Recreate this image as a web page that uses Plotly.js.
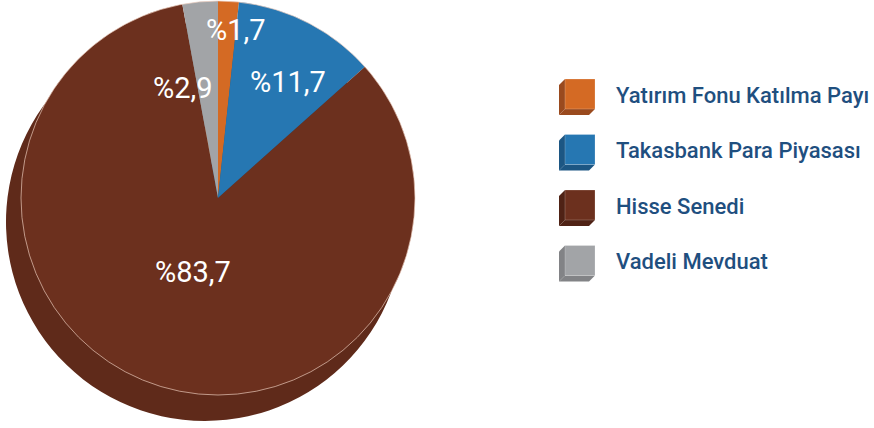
<!DOCTYPE html>
<html>
<head>
<meta charset="utf-8">
<script src="https://cdn.plot.ly/plotly-3.0.1.min.js"></script>
<style>html,body{margin:0;padding:0;background:#fff;}#chart{width:874px;height:428px;}</style>
</head>
<body>
<div id="chart"></div>
<script>
var categories = ["Yatırım Fonu Katılma Payı", "Takasbank Para Piyasası", "Hisse Senedi", "Vadeli Mevduat"];
var values = [1.7, 11.7, 83.7, 2.9];
var valueLabels = ["%1,7", "%11,7", "%83,7", "%2,9"];
var colors = ["#d46a24", "#2677b2", "#6c301e", "#a2a4a7"];
var sideColors = ["#9a4a1e", "#1c5683", "#4f2215", "#828386"];
var depthColors = ["#a85218", "#1d5c8a", "#5f2a1a", "#85878a"];

// label positions (pixel centers in the 874x428 picture)
var labelPos = [[236, 30], [288, 82], [193, 272], [183, 88]];

var W = 874, H = 428;

function dom(cx, cy, r) {
  return {x: [(cx - r) / W, (cx + r) / W], y: [(H - cy - r) / H, (H - cy + r) / H]};
}
function px(x) { return x / W; }
function py(y) { return 1 - y / H; }

var depth = {
  type: 'pie', values: values, labels: categories, sort: false, direction: 'clockwise', rotation: 0,
  marker: {colors: depthColors}, textinfo: 'none', hoverinfo: 'skip', showlegend: false,
  domain: dom(205, 222, 199)
};
var main = {
  type: 'pie', values: values, labels: categories, sort: false, direction: 'clockwise', rotation: 0,
  marker: {colors: colors, line: {width: 0}}, textinfo: 'none', hoverinfo: 'label+percent', showlegend: false,
  domain: dom(218, 198, 197)
};
var outline = {
  type: 'pie', values: [1], labels: ['outline'], sort: false,
  marker: {colors: ['rgba(0,0,0,0)'], line: {color: 'rgba(235,205,190,0.85)', width: 0.8}},
  textinfo: 'none', hoverinfo: 'skip', showlegend: false,
  domain: dom(218, 198, 197)
};

var annotations = [];
var shapes = [];
for (var i = 0; i < categories.length; i++) {
  annotations.push({
    xref: 'paper', yref: 'paper', x: labelPos[i][0] / W, y: 1 - labelPos[i][1] / H,
    xanchor: 'center', yanchor: 'middle', showarrow: false, text: valueLabels[i],
    font: {family: 'Roboto, sans-serif', size: 29, color: '#ffffff'}
  });
  var yTop = 79 + i * 55.5;
  var x0 = 565, x1 = 595, d = 6, s = 30;
  // left face
  shapes.push({type: 'path', xref: 'paper', yref: 'paper',
    path: 'M' + px(x0) + ',' + py(yTop) + ' L' + px(x0 - d) + ',' + py(yTop + d) + ' L' + px(x0 - d) + ',' + py(yTop + s + d) + ' L' + px(x0) + ',' + py(yTop + s) + ' Z',
    fillcolor: sideColors[i], line: {width: 0}});
  // bottom face
  shapes.push({type: 'path', xref: 'paper', yref: 'paper',
    path: 'M' + px(x0) + ',' + py(yTop + s) + ' L' + px(x0 - d) + ',' + py(yTop + s + d) + ' L' + px(x1 - d) + ',' + py(yTop + s + d) + ' L' + px(x1) + ',' + py(yTop + s) + ' Z',
    fillcolor: sideColors[i], line: {width: 0}});
  // front face
  shapes.push({type: 'rect', xref: 'paper', yref: 'paper',
    x0: px(x0), x1: px(x1), y0: py(yTop + s), y1: py(yTop),
    fillcolor: colors[i], line: {color: 'rgba(255,255,255,0.35)', width: 0.6}});
  annotations.push({
    xref: 'paper', yref: 'paper', x: 614 / W, y: py(yTop + 16),
    xanchor: 'left', yanchor: 'middle', showarrow: false, text: categories[i],
    font: {family: 'Roboto, sans-serif', size: 22, weight: 500, color: '#1f4f7f'}
  });
}

var layout = {
  width: W, height: H,
  margin: {l: 0, r: 0, t: 0, b: 0},
  paper_bgcolor: '#ffffff', plot_bgcolor: '#ffffff',
  showlegend: false,
  annotations: annotations,
  shapes: shapes
};

Plotly.newPlot('chart', [depth, main, outline], layout, {displayModeBar: false});
</script>
</body>
</html>
